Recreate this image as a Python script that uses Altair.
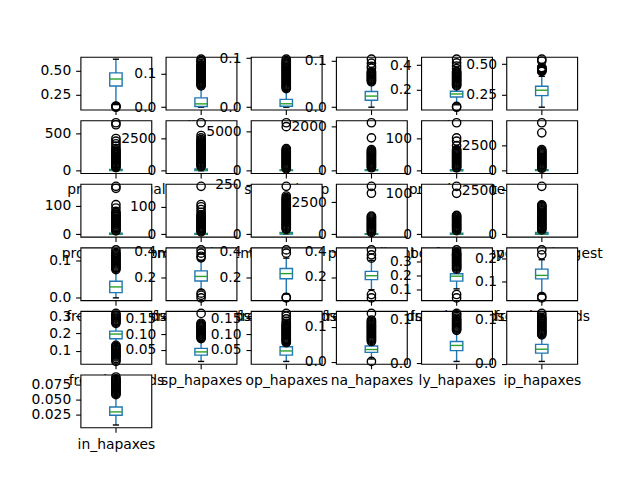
import altair as alt
import pandas as pd

names = [
    "ttr", "digits", "upper", "punct", "short", "stop",
    "pron_personal", "pron_cnt", "sp_total_grp", "pp_count", "prep_in_paste", "stem_cnt",
    "prop_nouns_cnt", "prop_verbs_cnt", "sp_count", "prop_adj_cnt", "bg_frequency", "repeated_longest",
    "freq_nn_words", "freq_sp_words", "freq_op_words", "freq_na_words", "freq_ly_words", "freq_ip_words",
    "freq_in_words", "sp_hapaxes", "op_hapaxes", "na_hapaxes", "ly_hapaxes", "ip_hapaxes",
    "in_hapaxes",
]

q1 = [0.337, 0.002, 0.002, 0.015, 0.139, 0.242,
      3, 20, 15, 5, 0, 10,
      0, 0, 1, 0, 0, 5,
      0.014, 0.17, 0.192, 0.179, 0.16, 0.111,
      0.169, 0.034, 0.034, 0.027, 0.029, 0.024,
      0.0233]
med = [0.41, 0.010, 0.007, 0.024, 0.164, 0.286,
       8, 60, 50, 20, 1, 40,
       1, 1, 4, 10, 1, 30,
       0.029, 0.205, 0.231, 0.21, 0.195, 0.126,
       0.196, 0.044, 0.047, 0.035, 0.041, 0.033,
       0.029]
q3 = [0.473, 0.028, 0.016, 0.034, 0.186, 0.318,
      18, 140, 110, 50, 3, 100,
      4, 3, 10, 50, 3, 100,
      0.044, 0.248, 0.27, 0.244, 0.212, 0.153,
      0.213, 0.055, 0.06, 0.045, 0.05, 0.044,
      0.0372]
wlo = [0.145, 0.0, 0.0, 0.0, 0.075, 0.147,
       0, 0, 0, 0, 0, 0,
       0, 0, 0, 0, 0, 0,
       0.0, 0.10, 0.075, 0.10, 0.105, 0.047,
       0.142, 0.014, 0.014, 0.008, 0.004, 0.005,
       0.007]
whi = [0.615, 0.060, 0.036, 0.052, 0.225, 0.40,
       40, 320, 250, 120, 7, 230,
       10, 7, 23, 120, 7, 240,
       0.07, 0.33, 0.35, 0.33, 0.238, 0.193,
       0.25, 0.08, 0.07, 0.055, 0.073, 0.062,
       0.055]

fliers = [
    [0.118, 0.124, 0.13],
    [0.064, 0.067, 0.070, 0.073, 0.076, 0.079, 0.082, 0.085, 0.088, 0.091, 0.094, 0.097, 0.100, 0.103,
     0.106, 0.109, 0.112, 0.115, 0.118, 0.121, 0.124, 0.127, 0.131, 0.136, 0.14, 0.144],
    [0.038, 0.040, 0.042, 0.044, 0.046, 0.048, 0.050, 0.052, 0.054, 0.056, 0.058, 0.060, 0.062, 0.064,
     0.066, 0.068, 0.070, 0.072, 0.074, 0.076, 0.078, 0.080, 0.082, 0.084, 0.086, 0.088, 0.090, 0.092,
     0.095, 0.098],
    [0.055, 0.057, 0.059, 0.061, 0.063, 0.065, 0.067, 0.069, 0.071, 0.073, 0.075, 0.077, 0.084, 0.088,
     0.095, 0.1036],
    [0.055, 0.061, 0.23, 0.238, 0.246, 0.254, 0.262, 0.27, 0.278, 0.286, 0.294, 0.302, 0.31, 0.318,
     0.326, 0.334, 0.342, 0.35, 0.372, 0.394, 0.42, 0.45],
    [0.44, 0.444, 0.448, 0.452, 0.456, 0.46, 0.464, 0.468, 0.472, 0.525, 0.54],
    [42, 56, 70, 84, 98, 112, 126, 140, 154, 168, 182, 196, 210, 224, 238, 252, 266, 280, 300, 332,
     365, 400, 436, 622, 649],
    [330, 410, 490, 570, 650, 730, 810, 890, 970, 1050, 1130, 1210, 1290, 1370, 1450, 1530, 1610, 1690,
     1770, 1850, 1930, 2010, 2090, 2170, 2250, 2330, 2420, 2555, 2734, 3726],
    [260, 380, 500, 620, 740, 860, 980, 1100, 1220, 1340, 1460, 1580, 1700, 1820, 1940, 2060, 2180,
     2300, 2420, 2540, 2650, 2815, 5620, 6117],
    [137, 182, 227, 272, 317, 362, 407, 452, 497, 542, 587, 632, 677, 722, 767, 812, 857, 902, 961,
     1497, 2183],
    [9, 12, 15, 18, 21, 24, 27, 30, 33, 36, 39, 42, 45, 48, 51, 54, 57, 60, 63, 66, 78, 92, 102, 149],
    [250, 350, 450, 550, 650, 750, 850, 950, 1050, 1150, 1250, 1350, 1450, 1550, 1650, 1750, 1850,
     1950, 2075, 3726, 4714],
    [12, 15, 19, 22, 26, 29, 33, 36, 40, 43, 47, 50, 54, 57, 61, 64, 68, 71, 75, 80, 92, 104, 161, 168],
    [9, 13, 16, 20, 24, 27, 31, 35, 38, 42, 46, 49, 53, 57, 60, 64, 68, 71, 80, 90, 100, 108, 174],
    [25, 30, 35, 40, 45, 50, 55, 60, 65, 70, 75, 80, 85, 90, 95, 100, 105, 110, 115, 120, 125, 130,
     135, 140, 145, 150, 155, 160, 165, 170, 175, 180, 185, 193, 242],
    [150, 230, 310, 390, 470, 550, 630, 710, 790, 870, 950, 1030, 1110, 1190, 1270, 1350, 1420,
     3200, 3740],
    [9, 11, 14, 16, 19, 21, 24, 26, 29, 31, 34, 36, 39, 41, 44, 46, 100, 117],
    [250, 310, 370, 430, 490, 550, 610, 670, 730, 790, 850, 910, 970, 1030, 1090, 1150, 1210, 1270,
     1330, 1390, 1450, 1510, 1570, 1620, 1670, 2730],
    [0.075, 0.078, 0.081, 0.084, 0.087, 0.09, 0.093, 0.096, 0.099, 0.102, 0.105, 0.108, 0.111, 0.114,
     0.117, 0.12, 0.127],
    [0.038, 0.058, 0.075, 0.35, 0.362, 0.387, 0.412],
    [0.045, 0.05, 0.388, 0.413],
    [0.036, 0.062, 0.348, 0.374, 0.413],
    [0.041, 0.065, 0.245, 0.252, 0.259, 0.266, 0.273, 0.28, 0.287, 0.294, 0.301, 0.308, 0.315, 0.322,
     0.329, 0.336, 0.343, 0.35, 0.357, 0.366, 0.382],
    [0.03, 0.036, 0.214, 0.235],
    [0.038, 0.047, 0.055, 0.064, 0.07, 0.076, 0.082, 0.088, 0.094, 0.1, 0.106, 0.112, 0.118, 0.124,
     0.131, 0.258, 0.264, 0.27, 0.276, 0.282, 0.288, 0.294, 0.3, 0.306, 0.315],
    [0.086, 0.089, 0.092, 0.095, 0.098, 0.101, 0.104, 0.107, 0.11, 0.113, 0.116, 0.119, 0.122, 0.125,
     0.128, 0.131, 0.134, 0.165],
    [0.073, 0.076, 0.079, 0.082, 0.085, 0.088, 0.091, 0.094, 0.097, 0.1, 0.103, 0.106, 0.109, 0.112,
     0.115, 0.118, 0.121, 0.124, 0.127, 0.13, 0.134, 0.14, 0.148, 0.156, 0.165],
    [0.001, 0.058, 0.061, 0.064, 0.067, 0.07, 0.073, 0.076, 0.079, 0.082, 0.085, 0.088, 0.091, 0.094,
     0.097, 0.1, 0.103, 0.106, 0.109, 0.112, 0.115, 0.119, 0.138],
    [0.076, 0.0785, 0.081, 0.0835, 0.086, 0.0885, 0.091, 0.0935, 0.096, 0.0985, 0.101, 0.104, 0.108,
     0.112, 0.115],
    [0.066, 0.0685, 0.071, 0.0735, 0.076, 0.0785, 0.081, 0.0835, 0.086, 0.0885, 0.091, 0.0935, 0.096,
     0.0985, 0.101, 0.1035, 0.106, 0.11, 0.115],
    [0.058, 0.0597, 0.0614, 0.0631, 0.0648, 0.0665, 0.0682, 0.0699, 0.0716, 0.0733, 0.075, 0.0767,
     0.0784, 0.0801, 0.0818, 0.083, 0.0845, 0.0877],
]

ticks = [
    [0.25, 0.5], [0.0, 0.1], [0.0, 0.1], [0.0, 0.1], [0.2, 0.4], [0.25, 0.5],
    [0, 500], [0, 2500], [0, 5000], [0, 2000], [0, 100], [0, 2500],
    [0, 100], [0, 100], [0, 250], [0, 2500], [0, 100], [0, 2500],
    [0.0, 0.1], [0.2, 0.4], [0.2, 0.4], [0.2, 0.4], [0.1, 0.2, 0.3], [0.1, 0.2],
    [0.1, 0.2, 0.3], [0.05, 0.10, 0.15], [0.05, 0.10, 0.15], [0.0, 0.1], [0.0, 0.1], [0.0, 0.1],
    [0.025, 0.050, 0.075],
]
fmts = [
    ".2f", ".1f", ".1f", ".1f", ".1f", ".2f",
    "d", "d", "d", "d", "d", "d",
    "d", "d", "d", "d", "d", "d",
    ".1f", ".1f", ".1f", ".1f", ".1f", ".1f",
    ".1f", ".2f", ".2f", ".1f", ".1f", ".1f",
    ".3f",
]

W, H = 70.86, 52.8
BOX_HALF = 0.0875
CAP_HALF = 0.044
LW = 1.39
BLUE = "#1f77b4"
GREEN = "#2ca02c"
FONT = "DejaVu Sans"
FS = 13.9

charts = []
for i, name in enumerate(names):
    vals = [wlo[i], whi[i], q1[i], q3[i]] + fliers[i]
    lo, hi = min(vals), max(vals)
    m = 0.05 * (hi - lo)
    xs = alt.Scale(domain=[0.5, 1.5], nice=False, zero=False)
    ys = alt.Scale(domain=[lo - m, hi + m], nice=False, zero=False)
    xax = alt.Axis(values=[1], labelExpr="'" + name + "'", title=None, grid=False)
    yax = alt.Axis(values=ticks[i], format=fmts[i], title=None, grid=False)

    st = pd.DataFrame({"pos": [1.0], "q1": [q1[i]], "med": [med[i]], "q3": [q3[i]],
                       "wlo": [wlo[i]], "whi": [whi[i]]})
    st["bl"] = st["pos"] - BOX_HALF
    st["br"] = st["pos"] + BOX_HALF
    st["cl"] = st["pos"] - CAP_HALF
    st["cr"] = st["pos"] + CAP_HALF
    fl = pd.DataFrame({"pos": [1.0] * len(fliers[i]), "v": fliers[i]})

    def X(f):
        return alt.X(f + ":Q", scale=xs, axis=xax)

    def Y(f):
        return alt.Y(f + ":Q", scale=ys, axis=yax)

    base = alt.Chart(st)
    wh1 = base.mark_rule(color=BLUE, strokeWidth=LW).encode(x=X("pos"), y=Y("wlo"), y2="q1:Q")
    wh2 = base.mark_rule(color=BLUE, strokeWidth=LW).encode(x=X("pos"), y=Y("q3"), y2="whi:Q")
    cap1 = base.mark_rule(color="black", strokeWidth=LW).encode(x=X("cl"), x2="cr:Q", y=Y("wlo"))
    cap2 = base.mark_rule(color="black", strokeWidth=LW).encode(x=X("cl"), x2="cr:Q", y=Y("whi"))
    box = base.mark_rect(fill="white", fillOpacity=0, stroke=BLUE, strokeWidth=LW).encode(
        x=X("bl"), x2="br:Q", y=Y("q1"), y2="q3:Q")
    medl = base.mark_rule(color=GREEN, strokeWidth=LW).encode(x=X("bl"), x2="br:Q", y=Y("med"))
    pts = alt.Chart(fl).mark_point(shape="circle", filled=False, color="black", size=69,
                                   strokeWidth=LW, opacity=1).encode(x=X("pos"), y=Y("v"))
    charts.append(alt.layer(wh1, wh2, cap1, cap2, box, medl, pts).properties(width=W, height=H))

chart = alt.concat(
    *charts, columns=6, spacing={"row": 10.56, "column": 14.17}, bounds="flush"
).properties(
    padding={"left": 29.5, "top": 49.8, "right": 5, "bottom": 5},
    background="white",
).configure_view(
    fill="white", stroke="black", strokeWidth=1.11
).configure_axis(
    labelFont=FONT, labelFontSize=FS, labelColor="black", tickColor="black",
    tickWidth=1.11, tickSize=4.86, labelPadding=4.86, domain=False, grid=False,
    labelFlush=False, labelOverlap=False
)

chart.save("out.html", embed_options={"renderer": "svg", "actions": False})
